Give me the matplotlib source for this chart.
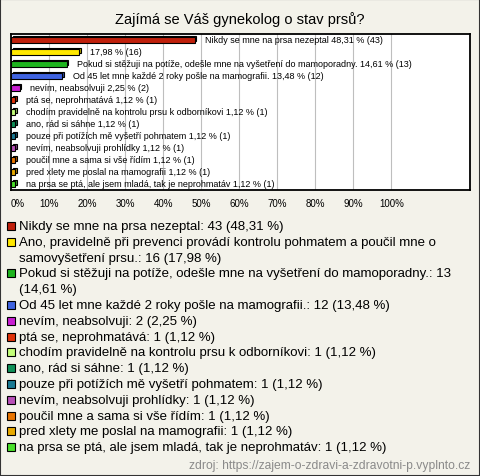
import textwrap
import matplotlib
matplotlib.use("Agg")
import matplotlib.pyplot as plt
from matplotlib.patches import Rectangle
from matplotlib.colors import to_rgb

plt.rcParams['font.family'] = ['Liberation Sans', 'DejaVu Sans']

# data
labels = [
    "Nikdy se mne na prsa nezeptal",
    "Ano, pravidelně při prevenci provádí kontrolu pohmatem a poučil mne o samovyšetření prsu.",
    "Pokud si stěžuji na potíže, odešle mne na vyšetření do mamoporadny.",
    "Od 45 let mne každé 2 roky pošle na mamografii.",
    "nevím, neabsolvuji",
    "ptá se, neprohmatává",
    "chodím pravidelně na kontrolu prsu k odborníkovi",
    "ano, rád si sáhne",
    "pouze při potížích mě vyšetří pohmatem",
    "nevím, neabsolvuji prohlídky",
    "poučil mne a sama si vše řídím",
    "pred xlety me poslal na mamografii",
    "na prsa se ptá, ale jsem mladá, tak je neprohmatáv",
]
show_label_in_bar = [True, False, True, True, True, True, True, True, True, True, True, True, True]
counts = [43, 16, 13, 12, 2, 1, 1, 1, 1, 1, 1, 1, 1]
percents = [48.31, 17.98, 14.61, 13.48, 2.25, 1.12, 1.12, 1.12, 1.12, 1.12, 1.12, 1.12, 1.12]
colors = ['#C0200C', '#FFE800', '#1EB41E', '#3F63E0', '#C81ED2', '#E0320A',
          '#C4FF7A', '#0E9058', '#1A7A94', '#B850B8', '#E87400', '#E8AA00', '#4AE02A']
xticks = [0, 10, 20, 30, 40, 50, 60, 70, 80, 90, 100]

bg = '#F3F2EA'
fig = plt.figure(figsize=(4.8, 4.77), dpi=100, facecolor=bg)
W, H = 480, 477

def fx(px):
    return px / W

def fy(py):
    return 1 - py / H

fig.text(0.5, fy(20), "Zajímá se Váš gynekolog o stav prsů?", ha='center', va='center', fontsize=10.5)

ax = fig.add_axes([fx(11), fy(191), fx(470) - fx(11), fy(35) - fy(191)])
ax.set_facecolor('white')
n = len(percents)
ys = list(range(n))

def pct(v):
    return f"{v:.2f}".replace('.', ',')

dx, dy = 0.45, 0.15
for i in range(n):
    c = to_rgb(colors[i])
    dark = tuple(v * 0.7 for v in c)
    ax.barh(ys[i] - dy, percents[i], left=dx, height=0.42, color=dark, edgecolor='black', linewidth=0.8, zorder=2)
    ax.barh(ys[i], percents[i], height=0.42, color=c, edgecolor='black', linewidth=0.8, zorder=3)
    txt = f"{pct(percents[i])} % ({counts[i]})"
    if show_label_in_bar[i]:
        txt = labels[i] + " " + txt
    ax.text(percents[i] + 2.7, ys[i] - 0.08, txt, va='center', ha='left', fontsize=6.5, zorder=4)

ax.set_xlim(0, 120.7)
ax.set_ylim(n - 0.5, -0.5)
ax.set_yticks([])
ax.set_xticks(xticks)
ax.set_xticklabels([f"{t}%" for t in xticks], fontsize=7)
ax.get_xticklabels()[0].set_horizontalalignment('left')
ax.tick_params(axis='x', length=0, pad=6)
for t in xticks[1:]:
    ax.axvline(t, color='#BEBEBE', linewidth=0.8, zorder=1)
for s in ax.spines.values():
    s.set_linewidth(1.3)
    s.set_color('black')

# legend
y_px = 227
step = 15.8
for i in range(n):
    entry = f"{labels[i]}: {counts[i]} ({pct(percents[i])} %)"
    lines = textwrap.wrap(entry, 72)
    fig.patches.append(Rectangle((fx(7), fy(y_px + 4)), fx(8), 8 / H, transform=fig.transFigure,
                                 facecolor=colors[i], edgecolor='black', linewidth=0.8))
    for ln in lines:
        fig.text(fx(19), fy(y_px), ln, ha='left', va='center', fontsize=9.5)
        y_px += step

fig.text(fx(470), fy(466), "zdroj: https://zajem-o-zdravi-a-zdravotni-p.vyplnto.cz",
         ha='right', va='center', fontsize=8.7, color='#8A8A8A')

fig.patches.append(Rectangle((0, 0), 1, 1, transform=fig.transFigure, fill=False,
                             edgecolor='#333333', linewidth=1.5))

fig.savefig('out.png', dpi=100, facecolor=bg)
